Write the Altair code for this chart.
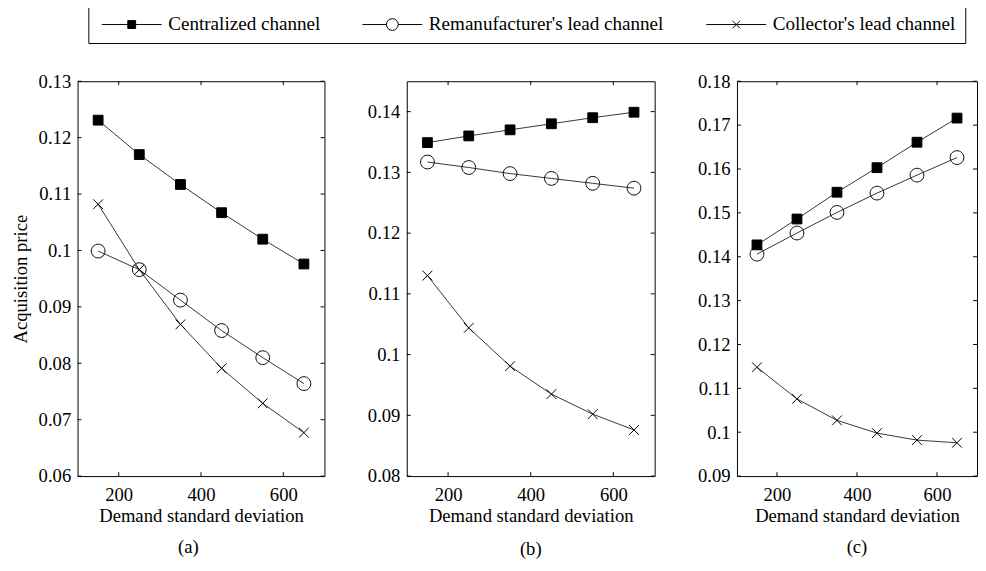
import altair as alt
import pandas as pd

# ---------------- data ----------------
sd = [150, 250, 350, 450, 550, 650]
series_names = ["Centralized channel", "Remanufacturer's lead channel", "Collector's lead channel"]

a_centralized = [0.1231, 0.1170, 0.1117, 0.1067, 0.1020, 0.0976]
a_remanufacturer = [0.0999, 0.0966, 0.0912, 0.0858, 0.0810, 0.0764]
a_collector = [0.1082, 0.0966, 0.0869, 0.0791, 0.0729, 0.0677]

b_centralized = [0.1349, 0.1360, 0.1370, 0.1380, 0.1390, 0.1399]
b_remanufacturer = [0.1317, 0.1308, 0.1298, 0.1290, 0.1282, 0.1274]
b_collector = [0.1130, 0.1044, 0.0981, 0.0935, 0.0902, 0.0876]

c_centralized = [0.1427, 0.1486, 0.1547, 0.1603, 0.1661, 0.1716]
c_remanufacturer = [0.1406, 0.1454, 0.1501, 0.1545, 0.1586, 0.1626]
c_collector = [0.1148, 0.1076, 0.1027, 0.0998, 0.0982, 0.0976]

x_ticks = [200, 400, 600]
a_yticks = [0.06, 0.07, 0.08, 0.09, 0.10, 0.11, 0.12, 0.13]
b_yticks = [0.08, 0.09, 0.10, 0.11, 0.12, 0.13, 0.14]
c_yticks = [0.09, 0.10, 0.11, 0.12, 0.13, 0.14, 0.15, 0.16, 0.17, 0.18]
a_ydomain = [0.06, 0.13]
b_ydomain = [0.08, 0.145]
c_ydomain = [0.09, 0.18]
captions = ["(a)", "(b)", "(c)"]
x_title = "Demand standard deviation"
y_title = "Acquisition price"

# ---------------- styles ----------------
FONT = "Liberation Serif"
FS = 19
H = 403
TICK = 4

marker_paths = [
    "M-1,-1H1V1H-1Z",
    "M-1.4,0A1.4,1.4,0,1,1,1.4,0A1.4,1.4,0,1,1,-1.4,0Z",
    "M-1,-1L1,1M-1,1L1,-1",
]
legend_paths = [
    "M-1,0H11.2M4.3,-0.8H5.9V0.8H4.3Z",
    "M-1,0H3.9M6.3,0H11.2M3.9,0A1.2,1.2,0,1,1,6.3,0A1.2,1.2,0,1,1,3.9,0Z",
    "M-1,0H11.2M4.3,-0.8L5.9,0.8M4.3,0.8L5.9,-0.8",
]
fills = ["black", "transparent", "transparent"]
strokes = ["black", "black", "black"]


def panel(cen, rem, col, yticks, ydomain, width, caption, ytitle, cap_dx, cap_offset, with_legend):
    df = pd.DataFrame({
        "sd": sd * 3,
        "price": cen + rem + col,
        "series": [s for s in series_names for _ in sd],
    })
    xdef = alt.X("sd:Q", scale=alt.Scale(domain=[100, 700], nice=False, zero=False),
                 axis=alt.Axis(values=x_ticks, title=x_title))
    if ytitle:
        yaxis = alt.Axis(values=yticks, format="~g", title=ytitle)
    else:
        yaxis = alt.Axis(values=yticks, format="~g", title=None)
    ydef = alt.Y("price:Q", scale=alt.Scale(domain=ydomain, nice=False, zero=False), axis=yaxis)

    base = alt.Chart(df).encode(x=xdef, y=ydef)
    lines = base.mark_line(color="black", strokeWidth=0.8).encode(detail="series:N")
    points = base.mark_point(filled=True, stroke="black", strokeWidth=1, size=100, opacity=1).encode(
        shape=alt.Shape("series:N", scale=alt.Scale(domain=series_names, range=marker_paths), legend=None),
        fill=alt.Fill("series:N", scale=alt.Scale(domain=series_names, range=fills), legend=None),
    )

    xt = alt.Chart(pd.DataFrame({"sd": x_ticks}))
    yt = alt.Chart(pd.DataFrame({"price": yticks}))
    rule = dict(color="black", strokeWidth=1)
    t_bottom = xt.mark_rule(**rule).encode(x=xdef, y=alt.value(H), y2=alt.value(H - TICK))
    t_top = xt.mark_rule(**rule).encode(x=xdef, y=alt.value(0), y2=alt.value(TICK))
    t_left = yt.mark_rule(**rule).encode(y=ydef, x=alt.value(0), x2=alt.value(TICK))
    t_right = yt.mark_rule(**rule).encode(y=ydef, x=alt.value(width), x2=alt.value(width - TICK))

    layers = [lines, points, t_bottom, t_top, t_left, t_right]
    if with_legend:
        leg = alt.Legend(
            title=None, orient="none", legendX=11, legendY=-77, direction="horizontal",
            strokeColor="black", fillColor="white", padding=9,
            labelFont=FONT, labelFontSize=19.5, labelColor="black", labelLimit=400,
            labelOffset=53, symbolStrokeColor="black", symbolStrokeWidth=1,
            symbolSize=100, symbolOpacity=1, columnPadding=38,
        )
        legend_layer = alt.Chart(df).transform_filter("false").mark_point(
            filled=True, strokeWidth=1, size=100, opacity=1
        ).encode(
            x=xdef, y=ydef,
            shape=alt.Shape("series:N", scale=alt.Scale(domain=series_names, range=legend_paths), legend=leg),
            fill=alt.Fill("series:N", scale=alt.Scale(domain=series_names, range=fills), legend=leg),
            stroke=alt.Stroke("series:N", scale=alt.Scale(domain=series_names, range=strokes), legend=leg),
        )
        layers.append(legend_layer)

    ch = alt.layer(*layers).resolve_scale(
        shape="independent", fill="independent", stroke="independent"
    ).properties(
        width=width, height=H,
        title=alt.TitleParams(caption, orient="bottom", font=FONT, fontSize=FS, fontWeight="normal",
                              color="black", frame="group", dx=cap_dx, offset=cap_offset),
    )
    return ch


pa = panel(a_centralized, a_remanufacturer, a_collector, a_yticks, a_ydomain, 252, captions[0], y_title, -13, 13, True)
pb = panel(b_centralized, b_remanufacturer, b_collector, b_yticks, b_ydomain, 253, captions[1], None, 0, 16, False)
pc = panel(c_centralized, c_remanufacturer, c_collector, c_yticks, c_ydomain, 245, captions[2], None, 0, 13, False)

chart = alt.hconcat(pa, pb, pc, spacing=84, bounds="flush").resolve_scale(
    shape="independent", fill="independent", stroke="independent"
).properties(
    padding={"left": 3, "top": -9, "right": 0, "bottom": 0}
).configure_view(
    stroke="black", strokeWidth=1
).configure_axis(
    labelFont=FONT, labelFontSize=FS, labelColor="black",
    titleFont=FONT, titleFontSize=FS, titleFontWeight="normal", titleColor="black",
    grid=False, domain=False, ticks=False, tickSize=0,
    labelFlush=False, labelOverlap=False,
).configure_axisX(
    labelPadding=10, titlePadding=2,
).configure_axisY(
    labelPadding=7, titlePadding=8,
)

chart.save("out.html", embed_options={"renderer": "svg", "actions": False})
